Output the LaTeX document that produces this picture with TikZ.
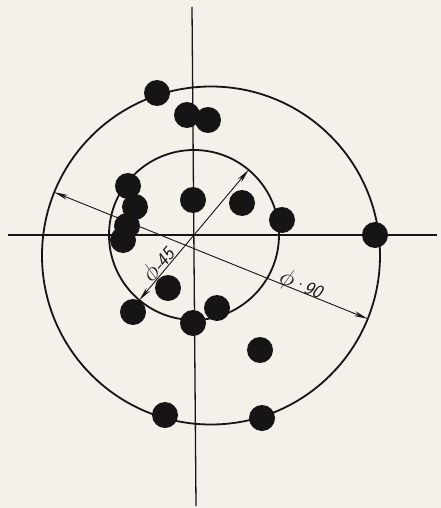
\documentclass[tikz,border=0pt]{standalone}
\usetikzlibrary{arrows.meta}
\definecolor{ink}{RGB}{22,20,20}
\definecolor{paper}{RGB}{243,241,234}
\newcommand{\diam}{{\fontsize{24}{24}\selectfont$\phi$}}
\begin{document}
\begin{tikzpicture}[x=1pt,y=-1pt,
  blob/.style={circle,fill=ink,inner sep=0pt,minimum size=26pt},
  ring/.style={draw=ink,line width=1.8pt},
  axisline/.style={draw=ink,line width=1.3pt},
  dimline/.style={draw=ink,line width=0.9pt,{Stealth[length=14pt,width=5pt]}-{Stealth[length=14pt,width=5pt]}},
  lbl/.style={font=\sffamily\slshape\fontsize{19}{19}\selectfont,text=ink,inner sep=1pt}]
\fill[paper] (0,0) rectangle (441,508);
\useasboundingbox (0,0) rectangle (441,508);
% centres
\coordinate (ci) at (194,235);
\coordinate (co) at (211,255.5);
% circles
\draw[ring] (co) circle[radius=169];
\draw[ring] (ci) circle[radius=85];
% axes
\coordinate (ht) at (192,7);
\coordinate (hb) at (196,506);
\coordinate (vl) at (8,235);
\coordinate (vr) at (437,235);
\draw[axisline] (ht) -- (hb);
\draw[axisline] (vl) -- (vr);
% dimension lines (y axis points down, so angles are mirrored)
\path (ci) ++(-50:85) coordinate (b45);
\path (ci) ++(130:85) coordinate (a45);
\path (co) ++(202:169) coordinate (a90);
\path (co) ++(22:169) coordinate (b90);
\draw[dimline] (a45) -- (b45);
\draw[dimline] (a90) -- (b90);
\node[lbl,rotate=50] (t45) at (159,265) {\diam\kern-1pt-\kern-0.5pt45};
\node[lbl,rotate=-22] (t90) at (301,285) {\diam\kern-1pt\textperiodcentered\kern-1pt90};
% dots
\foreach \n/\p in {1/{157,93},2/{187,115},3/{208,120},4/{128,186},5/{135,207},6/{127,226},7/{123,240},8/{193,200},9/{242,203},10/{282,220},11/{375,235},12/{168,288},13/{133,312},14/{217,308},15/{193,323},16/{260,350},17/{165,415},18/{262,418}}
  \node[blob] (d\n) at (\p) {};
\end{tikzpicture}
\end{document}
